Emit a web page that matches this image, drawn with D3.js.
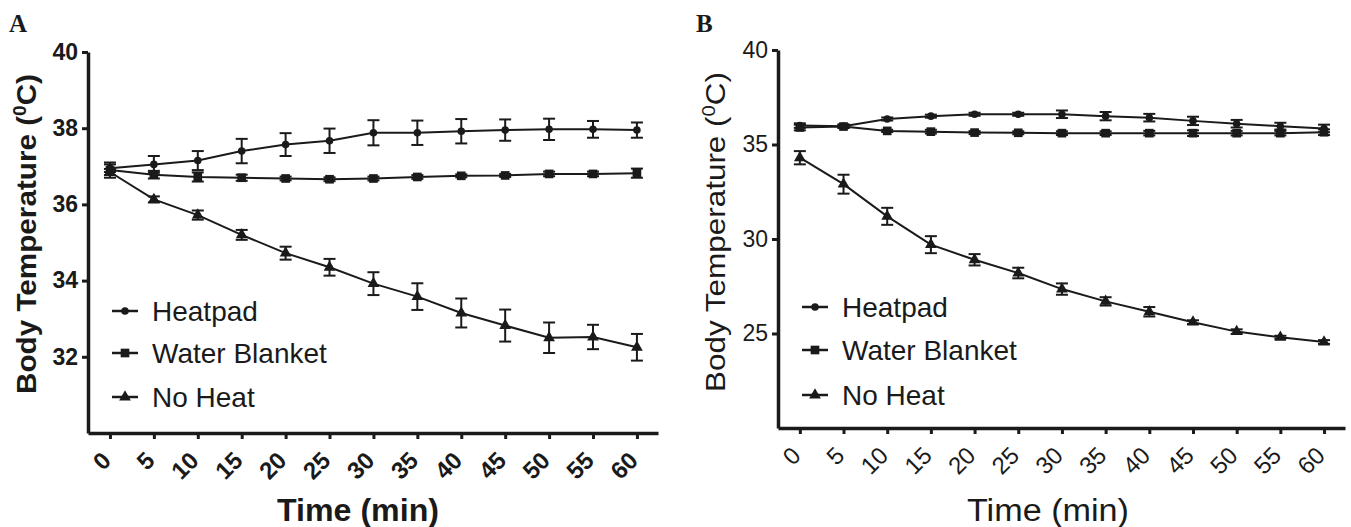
<!DOCTYPE html>
<html>
<head>
<meta charset="utf-8">
<script src="https://cdn.jsdelivr.net/npm/d3@7"></script>
<style>
  body { margin: 0; background: #fff; }
  text { font-family: "Liberation Sans", Arial, sans-serif; fill: #1a1a1a; }
</style>
</head>
<body>
<svg id="chart" width="1351" height="527"></svg>
<script>
// time points (min)
var times = [0, 5, 10, 15, 20, 25, 30, 35, 40, 45, 50, 55, 60];
var seriesNames = ["Heatpad", "Water Blanket", "No Heat"];

// panel A values (mean and error)
var heatpadA    = [36.95, 37.05, 37.15, 37.4, 37.57, 37.67, 37.88, 37.88, 37.92, 37.95, 37.97, 37.97, 37.95];
var heatpadAErr = [0.1, 0.22, 0.25, 0.32, 0.3, 0.32, 0.33, 0.32, 0.32, 0.28, 0.28, 0.22, 0.2];
var waterA      = [36.9, 36.78, 36.72, 36.7, 36.68, 36.66, 36.68, 36.72, 36.75, 36.76, 36.8, 36.8, 36.82];
var waterAErr   = [0.2, 0.1, 0.12, 0.08, 0.05, 0.05, 0.05, 0.05, 0.04, 0.04, 0.06, 0.06, 0.12];
var noHeatA     = [36.85, 36.13, 35.72, 35.2, 34.72, 34.35, 33.92, 33.58, 33.15, 32.82, 32.5, 32.52, 32.25];
var noHeatAErr  = [0.08, 0.08, 0.12, 0.13, 0.17, 0.22, 0.3, 0.35, 0.38, 0.42, 0.4, 0.32, 0.35];

// panel B values
var heatpadB    = [36.0, 35.97, 36.35, 36.5, 36.6, 36.6, 36.6, 36.5, 36.42, 36.25, 36.1, 35.97, 35.85];
var heatpadBErr = [0.12, 0.1, 0.08, 0.08, 0.08, 0.08, 0.2, 0.22, 0.2, 0.22, 0.2, 0.18, 0.2];
var waterB      = [35.9, 35.95, 35.72, 35.68, 35.63, 35.62, 35.6, 35.6, 35.6, 35.6, 35.6, 35.6, 35.65];
var waterBErr   = [0.15, 0.08, 0.06, 0.1, 0.08, 0.08, 0.1, 0.1, 0.12, 0.15, 0.12, 0.12, 0.15];
var noHeatB     = [34.3, 32.9, 31.2, 29.7, 28.9, 28.2, 27.35, 26.7, 26.15, 25.6, 25.1, 24.8, 24.55];
var noHeatBErr  = [0.35, 0.5, 0.45, 0.45, 0.3, 0.28, 0.3, 0.22, 0.25, 0.1, 0.12, 0.08, 0.1];

// y ticks
var yTicksA = [32, 34, 36, 38, 40];
var yTicksB = [25, 30, 35, 40];

var ink = "#1a1a1a";
var svg = d3.select("#chart");

var shapes = [d3.symbolCircle, d3.symbolSquare, d3.symbolTriangle];
var shapeSizes = [45, 75, 60];

function drawPanel(p) {
  var g = svg.append("g");

  var x = d3.scaleLinear().domain([-2.5, 62.4]).range([p.left, p.right]);
  var y = d3.scaleLinear().domain(p.yDomain).range([p.bottom, p.top]);

  // panel letter
  g.append("text")
    .attr("x", p.letterX).attr("y", 32)
    .style("font-family", "'Liberation Serif', serif")
    .style("font-weight", "bold")
    .style("font-size", "25px")
    .text(p.letter);

  // y axis
  var yAxis = g.append("g")
    .attr("transform", `translate(${p.left},0)`)
    .call(d3.axisLeft(y).tickValues(p.yTicks).tickSize(6).tickSizeOuter(0).tickPadding(4));
  yAxis.select(".domain").attr("stroke", ink).attr("stroke-width", 3.5);
  yAxis.selectAll(".tick line").attr("stroke", ink).attr("stroke-width", 3);
  yAxis.selectAll(".tick text")
    .style("font-size", "23px")
    .style("font-weight", p.bold ? "bold" : "normal")
    .attr("fill", ink);

  // x axis
  var xAxis = g.append("g")
    .attr("transform", `translate(0,${p.bottom})`)
    .call(d3.axisBottom(x).tickValues(times).tickSize(6).tickSizeOuter(0));
  xAxis.select(".domain").attr("stroke", ink).attr("stroke-width", 3.5);
  xAxis.selectAll(".tick line").attr("stroke", ink).attr("stroke-width", 3);
  xAxis.selectAll(".tick text")
    .attr("x", 0).attr("y", 0).attr("dy", "0.35em")
    .attr("transform", "translate(-4,23) rotate(-45)")
    .style("text-anchor", "end")
    .style("font-size", "24px")
    .style("font-weight", p.bold ? "bold" : "normal")
    .attr("fill", ink);

  // axis titles
  var yt = g.append("text")
    .attr("transform", `translate(${p.yTitleX},${p.yTitleY}) rotate(-90)`)
    .attr("text-anchor", "middle")
    .attr("textLength", 320)
    .attr("lengthAdjust", "spacingAndGlyphs")
    .style("font-size", "28px")
    .style("font-weight", p.bold ? "bold" : "normal");
  yt.append("tspan").text("Body Temperature (");
  yt.append("tspan").attr("baseline-shift", "super").style("font-size", "18px").text("0");
  yt.append("tspan").text("C)");

  g.append("text")
    .attr("x", p.xTitleX).attr("y", 521)
    .attr("text-anchor", "middle")
    .attr("textLength", 162)
    .attr("lengthAdjust", "spacingAndGlyphs")
    .style("font-size", "31px")
    .style("font-weight", p.bold ? "bold" : "normal")
    .text("Time (min)");

  var line = d3.line()
    .x((d, i) => x(times[i]))
    .y(d => y(d));

  p.series.forEach(function(s, k) {
    var pts = s.values.map((v, i) => ({t: times[i], v: v, e: s.errs[i]}));

    // error bars
    var eb = g.append("g").attr("stroke", ink).attr("stroke-width", 2);
    pts.forEach(function(d) {
      var cx = x(d.t);
      eb.append("line").attr("x1", cx).attr("x2", cx).attr("y1", y(d.v - d.e)).attr("y2", y(d.v + d.e));
      eb.append("line").attr("x1", cx - 6).attr("x2", cx + 6).attr("y1", y(d.v - d.e)).attr("y2", y(d.v - d.e));
      eb.append("line").attr("x1", cx - 6).attr("x2", cx + 6).attr("y1", y(d.v + d.e)).attr("y2", y(d.v + d.e));
    });

    g.append("path")
      .datum(s.values)
      .attr("d", line)
      .attr("fill", "none")
      .attr("stroke", ink)
      .attr("stroke-width", 2);

    g.selectAll(".m" + k)
      .data(pts)
      .enter()
      .append("path")
      .attr("transform", d => `translate(${x(d.t)},${y(d.v)})`)
      .attr("d", d3.symbol().type(shapes[k]).size(shapeSizes[k]))
      .attr("fill", ink);

    // legend row
    var ly = p.legendY[k];
    g.append("line")
      .attr("x1", p.legendX).attr("x2", p.legendX + 26)
      .attr("y1", ly).attr("y2", ly)
      .attr("stroke", ink).attr("stroke-width", 2.5);
    g.append("path")
      .attr("transform", `translate(${p.legendX + 13},${ly})`)
      .attr("d", d3.symbol().type(shapes[k]).size(shapeSizes[k]))
      .attr("fill", ink);
    g.append("text")
      .attr("x", p.legendX + 40).attr("y", ly + 10)
      .style("font-size", "28px")
      .text(seriesNames[k]);
  });
}

drawPanel({
  letter: "A", letterX: 9, bold: true,
  left: 88, right: 658, top: 52, bottom: 433,
  yDomain: [30, 40], yTicks: yTicksA,
  yTitleX: 36, yTitleY: 234, xTitleX: 358,
  legendX: 112, legendY: [311, 353, 397],
  series: [
    {values: heatpadA, errs: heatpadAErr},
    {values: waterA, errs: waterAErr},
    {values: noHeatA, errs: noHeatAErr}
  ]
});

drawPanel({
  letter: "B", letterX: 696, bold: false,
  left: 778, right: 1345, top: 50, bottom: 428,
  yDomain: [20, 40], yTicks: yTicksB,
  yTitleX: 725, yTitleY: 232, xTitleX: 1048,
  legendX: 802, legendY: [307, 350, 395],
  series: [
    {values: heatpadB, errs: heatpadBErr},
    {values: waterB, errs: waterBErr},
    {values: noHeatB, errs: noHeatBErr}
  ]
});
</script>
</body>
</html>
